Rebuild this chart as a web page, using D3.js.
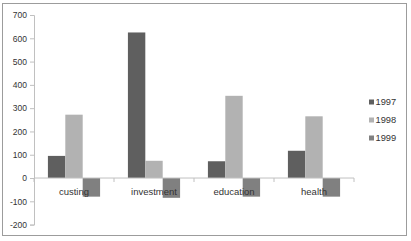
<!DOCTYPE html>
<html><head><meta charset="utf-8">
<script src="https://cdn.jsdelivr.net/npm/d3@7"></script>
<style>body{margin:0;background:#fff;} svg{display:block;font-family:"Liberation Sans",Arial,sans-serif;}</style>
</head><body>
<svg id="c" width="411" height="241"></svg>
<script>
const categories = ["custing", "investment", "education", "health"];
const seriesNames = ["1997", "1998", "1999"];
const v1997 = [95, 625, 72, 117];
const v1998 = [272, 74, 353, 265];
const v1999 = [-80, -85, -80, -80];
const yTicks = [700, 600, 500, 400, 300, 200, 100, 0, -100, -200];
const colors = ["#5f5f5f", "#b2b2b2", "#808080"];

const series = [v1997, v1998, v1999];
const svg = d3.select("#c");

svg.append("rect").attr("x", 2.5).attr("y", 3.5).attr("width", 404).attr("height", 232)
  .attr("fill", "#fff").attr("stroke", "#9c9c9c").attr("stroke-width", 1);

const y = d3.scaleLinear().domain([-200, 700]).range([224.6, 15]);
const x0 = d3.scaleBand().domain(categories).range([34, 354]).paddingInner(0).paddingOuter(0);
const x1 = d3.scaleBand().domain(seriesNames).range([0, x0.bandwidth()]).paddingOuter(0.8).paddingInner(0);

// y axis
const yAxis = svg.append("g").attr("transform", "translate(34,0)")
  .call(d3.axisLeft(y).tickValues(yTicks).tickSize(4).tickPadding(3).tickFormat(d => String(d)));
yAxis.select(".domain").attr("stroke", "#c0c0c0");
yAxis.selectAll(".tick line").attr("stroke", "#c0c0c0");
yAxis.selectAll(".tick text").attr("fill", "#333").style("font-size", "8.5px").style("font-family", "Liberation Sans, Arial, sans-serif");

// bars
const g = svg.append("g").selectAll("g").data(categories).join("g")
  .attr("transform", d => `translate(${x0(d)},0)`);
g.selectAll("rect").data((d, i) => series.map((s, k) => ({k, v: s[i]}))).join("rect")
  .attr("x", d => x1(seriesNames[d.k]))
  .attr("width", x1.bandwidth())
  .attr("y", d => y(Math.max(0, d.v)))
  .attr("height", d => Math.abs(y(d.v) - y(0)))
  .attr("fill", d => colors[d.k]);

// x axis
const xAxis = svg.append("g").attr("transform", `translate(0,${y(0)})`);
xAxis.append("line").attr("x1", 34).attr("x2", 354).attr("stroke", "#c0c0c0");
xAxis.selectAll("line.t").data(categories.concat(["end"])).join("line").attr("class", "t")
  .attr("x1", (d, i) => 34 + i * x0.bandwidth()).attr("x2", (d, i) => 34 + i * x0.bandwidth())
  .attr("y1", 0).attr("y2", 4).attr("stroke", "#c0c0c0");

// category labels (on top of bars)
svg.append("g").selectAll("text").data(categories).join("text")
  .attr("x", d => x0(d) + x0.bandwidth() / 2).attr("y", 195)
  .attr("text-anchor", "middle").attr("fill", "#333").style("font-size", "9.5px")
  .text(d => d);

// legend
const lg = svg.append("g").selectAll("g").data(seriesNames).join("g")
  .attr("transform", (d, i) => `translate(369,${102 + i * 18})`);
lg.append("rect").attr("x", 0).attr("y", -2.5).attr("width", 5).attr("height", 5).attr("fill", (d, i) => colors[i]);
lg.append("text").attr("x", 6.5).attr("y", 3.3).attr("fill", "#333").style("font-size", "9.3px").text(d => d);
</script>
</body></html>
